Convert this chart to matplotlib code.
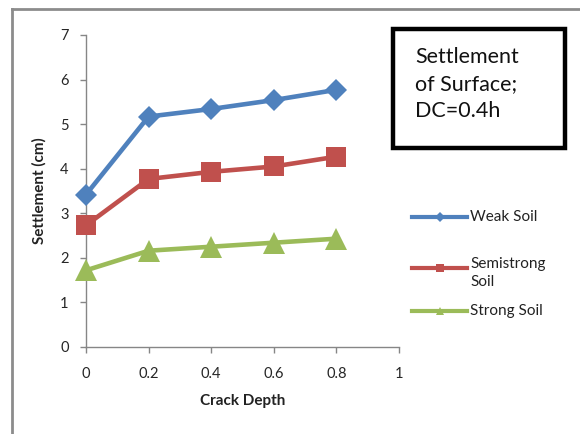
import matplotlib
matplotlib.use("Agg")
import matplotlib.pyplot as plt
from matplotlib.lines import Line2D
from matplotlib.patches import Rectangle

plt.rcParams['font.family'] = ['Lato', 'DejaVu Sans']

crack_depth = [0, 0.2, 0.4, 0.6, 0.8]
weak_soil = [3.42, 5.17, 5.34, 5.54, 5.77]
semistrong_soil = [2.73, 3.77, 3.93, 4.05, 4.27]
strong_soil = [1.72, 2.16, 2.25, 2.34, 2.43]
series_names = ['Weak Soil', 'Semistrong\nSoil', 'Strong Soil']
x_ticks = [0, 0.2, 0.4, 0.6, 0.8, 1]
x_tick_labels = ['0', '0.2', '0.4', '0.6', '0.8', '1']
y_ticks = [0, 1, 2, 3, 4, 5, 6, 7]
title_text = 'Settlement\nof Surface;\nDC=0.4h'

colors = ['#4F81BD', '#C0504D', '#9BBB59']
markers = ['D', 's', '^']
msizes = [11, 14, 16]

fig = plt.figure(figsize=(5.8, 4.34), dpi=100)
ax = fig.add_axes([86/580, 1 - 347/434, (399-86)/580, (347-35)/434])

for ys, c, m, ms in zip([weak_soil, semistrong_soil, strong_soil], colors, markers, msizes):
    ax.plot(crack_depth, ys, color=c, lw=3.3, marker=m, ms=ms,
            markeredgewidth=0, clip_on=False, zorder=3)

ax.set_xlim(0, 1)
ax.set_ylim(0, 7)
ax.set_xticks(x_ticks)
ax.set_xticklabels(x_tick_labels)
ax.set_yticks(y_ticks)
for s in ['top', 'right']:
    ax.spines[s].set_visible(False)
for s in ['left', 'bottom']:
    ax.spines[s].set_color('#868686')
    ax.spines[s].set_linewidth(1.0)
ax.tick_params(axis='both', colors='#868686', labelcolor='#262626', labelsize=10.5,
               length=4.5, width=1.0, direction='out')
ax.tick_params(axis='x', pad=10)
ax.tick_params(axis='y', pad=8)
ax.set_xlabel('Crack Depth', fontsize=11, fontweight='bold', color='#222222', labelpad=9)
ax.set_ylabel('Settlement (cm)', fontsize=11, fontweight='bold', color='#222222', labelpad=10)

# outer chart border (gray, left and top)
fig.add_artist(Line2D([12/580, 12/580], [0, 1 - 9/434], transform=fig.transFigure,
                      color='#8c8c8c', lw=2.0))
fig.add_artist(Line2D([12/580, 1], [1 - 9/434, 1 - 9/434], transform=fig.transFigure,
                      color='#8c8c8c', lw=2.0))

# title box
fig.add_artist(Rectangle((393/580, 1 - 148/434), 172/580, 119/434, transform=fig.transFigure,
                         fill=False, edgecolor='black', lw=3.2))
fig.text(415/580, 1 - 47/434, title_text, fontsize=15.5, va='top', ha='left',
         color='#111111', linespacing=1.45)

# legend
leg_y = [217, 268, 311]
text_y = [217, 273, 311]
for name, c, m, ly, ty in zip(series_names, colors, markers, leg_y, text_y):
    fig.add_artist(Line2D([412/580, 467/580], [1 - ly/434, 1 - ly/434],
                          transform=fig.transFigure, color=c, lw=3.0))
    fig.add_artist(Line2D([439.5/580], [1 - ly/434], transform=fig.transFigure,
                          color=c, marker=m, ms=6 if m != 'D' else 5, markeredgewidth=0, lw=0))
    fig.text(470/580, 1 - ty/434, name, fontsize=11, va='center', ha='left',
             color='#222222', linespacing=1.3)

fig.savefig('out.png', dpi=100)
